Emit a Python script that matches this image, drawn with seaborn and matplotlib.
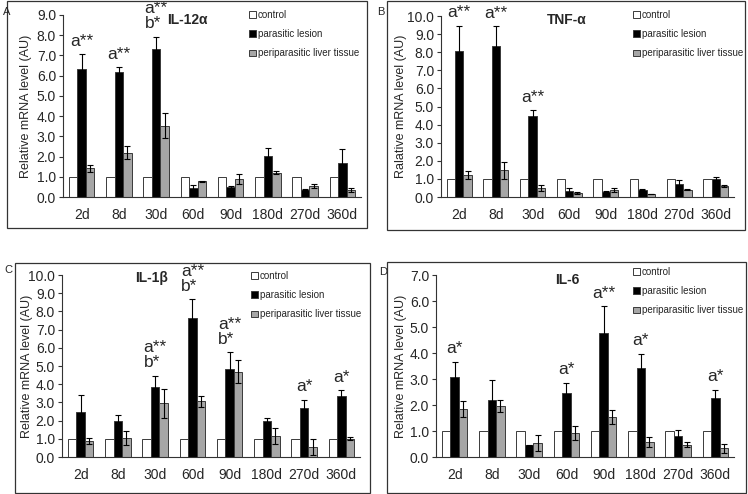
import pandas as pd
import matplotlib
matplotlib.use('Agg')
import matplotlib.pyplot as plt
import seaborn as sns
from matplotlib.patches import Rectangle

sns.set_style('white')
plt.rcParams['font.family'] = ['Liberation Sans', 'DejaVu Sans']

days = ['2d', '8d', '30d', '60d', '90d', '180d', '270d', '360d']
groups = ['control', 'parasitic lesion', 'periparasitic liver tissue']
control = [1.0] * 8

# A: IL-12a
il12_par = [6.35, 6.2, 7.3, 0.43, 0.47, 2.03, 0.37, 1.66]
il12_par_err = [0.7, 0.22, 0.62, 0.17, 0.05, 0.37, 0.04, 0.71]
il12_peri = [1.43, 2.2, 3.53, 0.78, 0.89, 1.2, 0.54, 0.36]
il12_peri_err = [0.17, 0.32, 0.62, 0.03, 0.25, 0.08, 0.1, 0.09]
il12_marks = {'2d': 'a**', '8d': 'a**', '30d': 'a**\nb*'}

# B: TNF-a
tnf_par = [8.07, 8.33, 4.5, 0.31, 0.3, 0.4, 0.74, 1.01]
tnf_par_err = [1.4, 1.1, 0.3, 0.2, 0.04, 0.04, 0.18, 0.08]
tnf_peri = [1.22, 1.48, 0.5, 0.22, 0.4, 0.17, 0.4, 0.6]
tnf_peri_err = [0.2, 0.48, 0.18, 0.07, 0.1, 0.02, 0.04, 0.04]
tnf_marks = {'2d': 'a**', '8d': 'a**', '30d': 'a**'}

# C: IL-1b
il1_par = [2.5, 2.0, 3.85, 7.65, 4.85, 2.0, 2.67, 3.35]
il1_par_err = [0.93, 0.32, 0.6, 1.02, 0.91, 0.13, 0.46, 0.31]
il1_peri = [0.89, 1.05, 2.95, 3.05, 4.68, 1.15, 0.55, 1.0]
il1_peri_err = [0.16, 0.39, 0.8, 0.3, 0.64, 0.44, 0.45, 0.09]
il1_marks = {'30d': 'a**\nb*', '60d': 'a**\nb*', '90d': 'a**\nb*', '270d': 'a*', '360d': 'a*'}

# D: IL-6
il6_par = [3.06, 2.2, 0.45, 2.48, 4.78, 3.44, 0.82, 2.27]
il6_par_err = [0.6, 0.77, 0.03, 0.38, 1.02, 0.54, 0.21, 0.31]
il6_peri = [1.84, 1.96, 0.54, 0.92, 1.54, 0.59, 0.47, 0.33]
il6_peri_err = [0.3, 0.22, 0.29, 0.27, 0.28, 0.19, 0.09, 0.17]
il6_marks = {'2d': 'a*', '60d': 'a*', '90d': 'a**', '180d': 'a*', '360d': 'a*'}

W, H = 748, 494
fig = plt.figure(figsize=(W / 100, H / 100), dpi=100)


def fx(px):
    return px / W


def fy(py):
    return 1 - py / H


panels = [
    # letter, title, ylabel, ymax, par, par_err, peri, peri_err, marks,
    # axes px (l, t, r, b), box px, letter px, title px, legend px, ylabel x px
    ('A', 'IL-12α', 'Relative mRNA level (AU)', 9, il12_par, il12_par_err, il12_peri, il12_peri_err, il12_marks,
     (63, 15, 361, 197), (7, 1, 367, 228), (3, 12), (187, 20), (249, 10), 32),
    ('B', 'TNF-α', 'Ralative mRNA level (AU)', 10, tnf_par, tnf_par_err, tnf_peri, tnf_peri_err, tnf_marks,
     (441, 16, 734, 197), (387, 1, 745, 230), (377, 12), (567, 20), (633, 10), 407),
    ('C', 'IL-1β', 'Relative mRNA level (AU)', 10, il1_par, il1_par_err, il1_peri, il1_peri_err, il1_marks,
     (62, 275, 360, 457), (15, 263, 370, 493), (4, 270), (152, 278), (251, 271), 33),
    ('D', 'IL-6', 'Relative mRNA level (AU)', 7, il6_par, il6_par_err, il6_peri, il6_peri_err, il6_marks,
     (436, 275, 734, 457), (387, 262, 746, 493), (379, 272), (567, 280), (633, 267), 407),
]

colors = ['white', 'black', '#a6a6a6']

for (letter, title, ylabel, ymax, par, par_err, peri, peri_err, marks,
     apx, bpx, lpx, tpx, gpx, ylx) in panels:
    # frame box around the panel
    fig.patches.append(Rectangle((fx(bpx[0]), fy(bpx[3])), fx(bpx[2] - bpx[0]), (bpx[3] - bpx[1]) / H,
                                 transform=fig.transFigure, fill=False, edgecolor='#333333', linewidth=0.9))
    fig.text(fx(lpx[0]), fy(lpx[1]), letter, fontsize=8, va='center', ha='left')

    ax = fig.add_axes([fx(apx[0]), fy(apx[3]), fx(apx[2] - apx[0]), (apx[3] - apx[1]) / H])

    df = pd.DataFrame({
        'day': days * 3,
        'group': [g for g in groups for _ in days],
        'value': control + par + peri,
    })
    sns.barplot(data=df, x='day', y='value', hue='group', order=days, hue_order=groups,
                palette=colors, errorbar=None, width=0.68, gap=0,
                edgecolor='#3a3a3a', linewidth=0.7, ax=ax)

    # error bars on parasitic and periparasitic bars
    for cont, vals, errs in [(ax.containers[1], par, par_err), (ax.containers[2], peri, peri_err)]:
        xs = [b.get_x() + b.get_width() / 2 for b in cont]
        ax.errorbar(xs, vals, yerr=errs, fmt='none', ecolor='black', elinewidth=0.8,
                    capsize=2.2, capthick=0.8, zorder=5)

    # significance marks above the parasitic bars
    for cont_bar, day, v, e in zip(ax.containers[1], days, par, par_err):
        if day in marks:
            xc = cont_bar.get_x() + cont_bar.get_width() / 2
            ax.annotate(marks[day], (xc, v + e), xytext=(0, 4), textcoords='offset points',
                        ha='center', va='bottom', multialignment='left', fontsize=12.5,
                        linespacing=1.0, annotation_clip=False)

    ax.set_ylim(0, ymax)
    ax.set_xlim(-0.5, len(days) - 0.5)
    ax.set_yticks(range(0, ymax + 1))
    ax.set_yticklabels([f'{t:.1f}' for t in range(0, ymax + 1)], fontsize=10)
    ax.set_xticks(range(len(days)))
    ax.set_xticklabels(days, fontsize=10)
    ax.set_xticks([i - 0.5 for i in range(len(days) + 1)], minor=True)
    ax.tick_params(axis='x', which='major', length=0, pad=8)
    ax.tick_params(axis='x', which='minor', length=3.5, width=0.8, color='#333333', direction='out')
    ax.tick_params(axis='y', length=3, width=0.8, color='#333333', direction='out', pad=2, left=True)
    ax.set_xlabel('')
    ax.set_ylabel(ylabel, fontsize=9)
    ax.yaxis.set_label_coords((ylx - apx[0]) / (apx[2] - apx[0]), 0.5)
    for side in ['top', 'right']:
        ax.spines[side].set_visible(False)
    for side in ['left', 'bottom']:
        ax.spines[side].set_color('#333333')
        ax.spines[side].set_linewidth(0.8)

    fig.text(fx(tpx[0]), fy(tpx[1]), title, fontsize=10, fontweight='bold', ha='center', va='center')

    handles, labels = ax.get_legend_handles_labels()
    ax.legend(handles, labels, loc='upper left', bbox_to_anchor=(fx(gpx[0]), fy(gpx[1])),
              bbox_transform=fig.transFigure, frameon=False, fontsize=7,
              handlelength=0.7, handleheight=0.7, handletextpad=0.2, labelspacing=0.95,
              borderaxespad=0, borderpad=0)

fig.savefig('out.png', dpi=100)
